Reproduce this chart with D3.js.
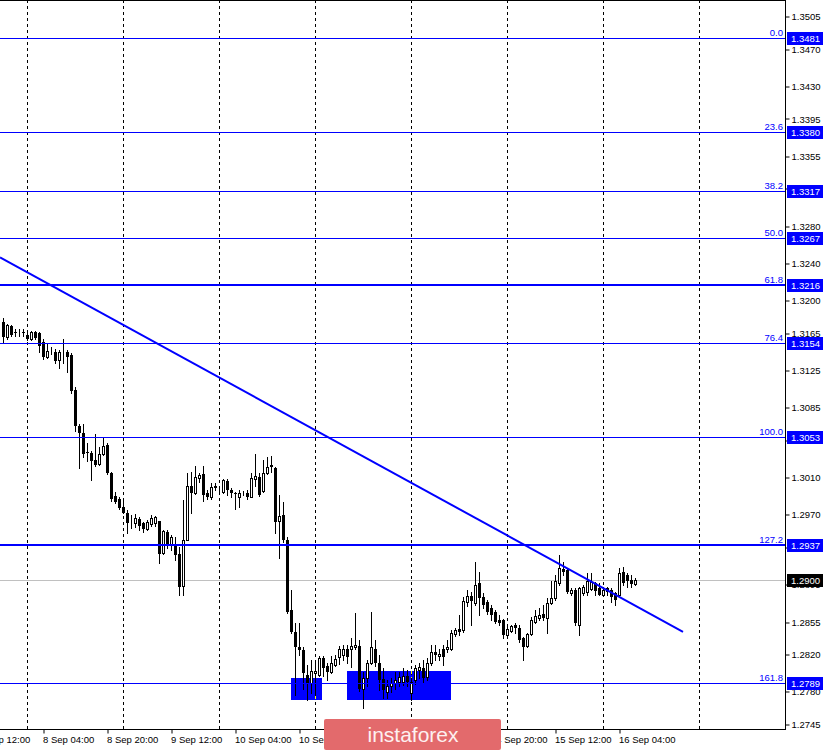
<!DOCTYPE html>
<html>
<head>
<meta charset="utf-8">
<script src="https://cdnjs.cloudflare.com/ajax/libs/d3/7.8.5/d3.min.js"></script>
<style>
  body { margin: 0; background: #fff; }
  svg { display: block; }
  text { font-family: "Liberation Sans", Arial, sans-serif; }
</style>
</head>
<body>
<svg></svg>
<script>
// GBPUSD H1, one bar per hour, 7 Sep 18:00 .. 16 Sep 08:00
const opens = [
  1.3176, 1.3160, 1.3172, 1.3166, 1.3166, 1.3166, 1.3163, 1.3158, 1.3166, 1.3165,
  1.3155, 1.3139, 1.3144, 1.3144, 1.3136, 1.3144, 1.3144, 1.3141, 1.3104, 1.3065,
  1.3057, 1.3037, 1.3036, 1.3028, 1.3024, 1.3035, 1.3045, 1.3014, 1.2990, 1.2986,
  1.2978, 1.2972, 1.2964, 1.2961, 1.2965, 1.2961, 1.2954, 1.2960, 1.2961, 1.2963,
  1.2929, 1.2951, 1.2938, 1.2937, 1.2927, 1.2893, 1.2942, 1.3001, 1.2993, 1.3009,
  1.3013, 1.2993, 1.2989, 1.3000, 1.2996, 1.2994, 1.3006, 1.2996, 1.2993, 1.2989,
  1.2993, 1.2993, 1.2989, 1.3008, 1.3010, 1.2995, 1.3014, 1.3023, 1.3020, 1.2963,
  1.2969, 1.2943, 1.2867, 1.2844, 1.2828, 1.2824, 1.2798, 1.2789, 1.2800, 1.2798,
  1.2816, 1.2807, 1.2801, 1.2808, 1.2817, 1.2819, 1.2826, 1.2826, 1.2828, 1.2829,
  1.2783, 1.2794, 1.2811, 1.2825, 1.2810, 1.2793, 1.2779, 1.2786, 1.2789, 1.2790,
  1.2790, 1.2796, 1.2778, 1.2792, 1.2803, 1.2805, 1.2795, 1.2810, 1.2822, 1.2818,
  1.2825, 1.2826, 1.2826, 1.2842, 1.2847, 1.2846, 1.2876, 1.2882, 1.2875, 1.2896,
  1.2881, 1.2876, 1.2869, 1.2865, 1.2857, 1.2857, 1.2840, 1.2845, 1.2851, 1.2848,
  1.2837, 1.2829, 1.2842, 1.2854, 1.2859, 1.2863, 1.2859, 1.2875, 1.2880, 1.2896,
  1.2911, 1.2910, 1.2886, 1.2889, 1.2851, 1.2886, 1.2887, 1.2890, 1.2896, 1.2891,
  1.2884, 1.2891, 1.2889, 1.2886, 1.2884, 1.2908, 1.2905, 1.2900, 1.2895
];
const highs = [
  1.3181, 1.3174, 1.3173, 1.3169, 1.3169, 1.3169, 1.3165, 1.3167, 1.3167, 1.3166,
  1.3158, 1.3153, 1.3150, 1.3148, 1.3146, 1.3158, 1.3146, 1.3143, 1.3107, 1.3067,
  1.3067, 1.3047, 1.3038, 1.3056, 1.3042, 1.3053, 1.3047, 1.3015, 1.2994, 1.2989,
  1.2986, 1.2975, 1.2969, 1.2970, 1.2967, 1.2962, 1.2964, 1.2969, 1.2968, 1.2963,
  1.2953, 1.2953, 1.2948, 1.2946, 1.2935, 1.2985, 1.3014, 1.3015, 1.3022, 1.3014,
  1.3022, 1.2996, 1.3004, 1.3004, 1.2999, 1.3008, 1.3008, 1.2998, 1.2994, 1.2996,
  1.2995, 1.2996, 1.3014, 1.3035, 1.3014, 1.3028, 1.3032, 1.3033, 1.3021, 1.2991,
  1.2983, 1.2946, 1.2889, 1.2853, 1.2853, 1.2828, 1.2808, 1.2814, 1.2811, 1.2818,
  1.2818, 1.2811, 1.2818, 1.2819, 1.2829, 1.2830, 1.2830, 1.2837, 1.2864, 1.2835,
  1.2801, 1.2814, 1.2865, 1.2835, 1.2819, 1.2805, 1.2792, 1.2794, 1.2801, 1.2801,
  1.2805, 1.2803, 1.2794, 1.2808, 1.2811, 1.2814, 1.2816, 1.2830, 1.2830, 1.2826,
  1.2830, 1.2835, 1.2846, 1.2848, 1.2862, 1.2881, 1.2889, 1.2887, 1.2919, 1.2908,
  1.2886, 1.2878, 1.2873, 1.2867, 1.2862, 1.2858, 1.2849, 1.2851, 1.2853, 1.2851,
  1.2838, 1.2843, 1.2860, 1.2867, 1.2870, 1.2873, 1.2880, 1.2899, 1.2905, 1.2926,
  1.2919, 1.2912, 1.2891, 1.2891, 1.2892, 1.2894, 1.2907, 1.2907, 1.2897, 1.2896,
  1.2892, 1.2892, 1.2891, 1.2887, 1.2912, 1.2913, 1.2907, 1.2905, 1.2902
];
const lows = [
  1.3155, 1.3158, 1.3161, 1.3162, 1.3162, 1.3161, 1.3157, 1.3157, 1.3158, 1.3144,
  1.3137, 1.3138, 1.3142, 1.3133, 1.3127, 1.3132, 1.3123, 1.3100, 1.3060, 1.3020,
  1.3032, 1.3027, 1.3007, 1.3022, 1.3023, 1.3034, 1.3013, 1.2984, 1.2982, 1.2976,
  1.2971, 1.2950, 1.2955, 1.2956, 1.2953, 1.2951, 1.2953, 1.2958, 1.2958, 1.2918,
  1.2928, 1.2934, 1.2932, 1.2921, 1.2884, 1.2884, 1.2942, 1.2972, 1.2992, 1.3005,
  1.2984, 1.2986, 1.2987, 1.2996, 1.2994, 1.2993, 1.2991, 1.2989, 1.2976, 1.2978,
  1.2991, 1.2987, 1.2989, 1.3001, 1.2990, 1.2994, 1.3013, 1.3015, 1.2950, 1.2923,
  1.2940, 1.2864, 1.2843, 1.2776, 1.2819, 1.2783, 1.2771, 1.2778, 1.2776, 1.2797,
  1.2796, 1.2792, 1.2800, 1.2807, 1.2809, 1.2814, 1.2811, 1.2806, 1.2825, 1.2780,
  1.2762, 1.2786, 1.2809, 1.2807, 1.2781, 1.2773, 1.2773, 1.2779, 1.2783, 1.2786,
  1.2787, 1.2786, 1.2771, 1.2788, 1.2794, 1.2790, 1.2792, 1.2808, 1.2814, 1.2814,
  1.2808, 1.2822, 1.2824, 1.2839, 1.2840, 1.2844, 1.2872, 1.2851, 1.2873, 1.2862,
  1.2870, 1.2863, 1.2857, 1.2853, 1.2851, 1.2837, 1.2838, 1.2844, 1.2843, 1.2833,
  1.2814, 1.2828, 1.2840, 1.2853, 1.2857, 1.2857, 1.2843, 1.2874, 1.2878, 1.2894,
  1.2905, 1.2886, 1.2883, 1.2851, 1.2840, 1.2883, 1.2883, 1.2889, 1.2883, 1.2883,
  1.2883, 1.2883, 1.2876, 1.2873, 1.2883, 1.2894, 1.2892, 1.2892, 1.2894
];
const closes = [
  1.3160, 1.3173, 1.3163, 1.3165, 1.3166, 1.3165, 1.3158, 1.3166, 1.3159, 1.3151,
  1.3139, 1.3145, 1.3144, 1.3135, 1.3144, 1.3144, 1.3139, 1.3102, 1.3065, 1.3057,
  1.3035, 1.3036, 1.3027, 1.3023, 1.3035, 1.3043, 1.3014, 1.2986, 1.2983, 1.2977,
  1.2972, 1.2961, 1.2964, 1.2966, 1.2958, 1.2954, 1.2962, 1.2966, 1.2967, 1.2928,
  1.2952, 1.2936, 1.2946, 1.2926, 1.2892, 1.2942, 1.3000, 1.2993, 1.3010, 1.3012,
  1.2991, 1.2989, 1.2999, 1.2998, 1.2996, 1.3007, 1.2996, 1.2993, 1.2992, 1.2993,
  1.2993, 1.2989, 1.3009, 1.3011, 1.2991, 1.3014, 1.3021, 1.3021, 1.2962, 1.2968,
  1.2942, 1.2865, 1.2844, 1.2828, 1.2824, 1.2800, 1.2789, 1.2802, 1.2802, 1.2816,
  1.2805, 1.2801, 1.2810, 1.2815, 1.2826, 1.2825, 1.2817, 1.2829, 1.2830, 1.2783,
  1.2794, 1.2811, 1.2828, 1.2810, 1.2792, 1.2781, 1.2786, 1.2789, 1.2792, 1.2795,
  1.2797, 1.2790, 1.2790, 1.2805, 1.2806, 1.2794, 1.2811, 1.2822, 1.2819, 1.2820,
  1.2817, 1.2828, 1.2843, 1.2846, 1.2844, 1.2877, 1.2882, 1.2877, 1.2894, 1.2880,
  1.2873, 1.2865, 1.2862, 1.2854, 1.2853, 1.2840, 1.2847, 1.2850, 1.2848, 1.2835,
  1.2828, 1.2842, 1.2857, 1.2861, 1.2862, 1.2859, 1.2875, 1.2880, 1.2899, 1.2912,
  1.2908, 1.2887, 1.2889, 1.2853, 1.2891, 1.2892, 1.2899, 1.2897, 1.2888, 1.2884,
  1.2889, 1.2887, 1.2881, 1.2878, 1.2907, 1.2896, 1.2899, 1.2895, 1.2900
];

const priceTicks = [1.3505, 1.3470, 1.3430, 1.3395, 1.3355, 1.3320, 1.3280, 1.3240, 1.3200,
  1.3165, 1.3125, 1.3085, 1.3050, 1.3010, 1.2970, 1.2935, 1.2895, 1.2855, 1.2820, 1.2780, 1.2745];

// bar index of each time label (bar 0 = 7 Sep 18:00)
const timeLabelBars = [-6, 10, 26, 42, 58, 74, 90, 106, 122, 138, 154];
const timeLabels = ["7 Sep 12:00", "8 Sep 04:00", "8 Sep 20:00", "9 Sep 12:00", "10 Sep 04:00",
  "10 Sep 20:00", "11 Sep 12:00", "14 Sep 04:00", "14 Sep 20:00", "15 Sep 12:00", "16 Sep 04:00"];
const daySeparatorBars = [6, 30, 54, 78, 102, 126, 150, 174];

const fibNames = ["0.0", "23.6", "38.2", "50.0", "61.8", "76.4", "100.0", "127.2", "161.8"];
const fibPrices = [1.3481, 1.3380, 1.3317, 1.3267, 1.3216, 1.3154, 1.3053, 1.2937, 1.2789];
const fibBold = ["61.8", "127.2"];

const trendBars = [-0.75, 170];
const trendPrices = [1.3246, 1.2844];

const zoneFrom = [72, 86];
const zoneTo = [79.75, 112];
const zoneTop = [1.2794, 1.2802];
const zoneBottom = [1.2771, 1.2771];

const lastPrice = 1.2900;

const width = 826, height = 750;
const plotW = 785, plotH = 729;
const blue = "#0000ff";

const svg = d3.select('svg')
  .attr("width", width)
  .attr("height", height);

svg.append("defs").append("clipPath").attr("id", "plot")
  .append("rect").attr("width", plotW).attr("height", plotH);

const xScale = d3.scaleLinear()
  .domain([0, closes.length - 1])
  .range([3, 3 + 4 * (closes.length - 1)]);

const yScale = d3.scaleLinear()
  .domain([1.2745, 1.3505])
  .range([724, 16]);

const px = v => Math.round(v);

const plot = svg.append("g").attr("clip-path", "url(#plot)");

// support zones
zoneFrom.forEach((f, i) => {
  plot.append("rect")
    .attr("x", px(xScale(f)))
    .attr("y", px(yScale(zoneTop[i])))
    .attr("width", px(xScale(zoneTo[i])) - px(xScale(f)))
    .attr("height", px(yScale(zoneBottom[i])) - px(yScale(zoneTop[i])))
    .attr("fill", blue);
});

// day separators
plot.selectAll(".sep")
  .data(daySeparatorBars)
  .enter()
  .append("line")
  .attr("x1", d => px(xScale(d)) + 0.5)
  .attr("x2", d => px(xScale(d)) + 0.5)
  .attr("y1", 0)
  .attr("y2", plotH)
  .attr("stroke", "#000")
  .attr("stroke-dasharray", "3,3");

// separators look yellow where they cross the zones
zoneFrom.forEach((f, i) => {
  daySeparatorBars.filter(d => d > f && d < zoneTo[i]).forEach(d => {
    plot.append("line")
      .attr("x1", px(xScale(d)) + 0.5)
      .attr("x2", px(xScale(d)) + 0.5)
      .attr("y1", 0)
      .attr("y2", plotH)
      .attr("stroke", "#ffff00")
      .attr("stroke-dasharray", "3,3")
      .attr("clip-path", null)
      .attr("y1", px(yScale(zoneTop[i])))
      .attr("y2", px(yScale(zoneBottom[i])));
  });
});

// bid line
plot.append("line")
  .attr("x1", 0).attr("x2", plotW)
  .attr("y1", px(yScale(lastPrice)) + 0.5)
  .attr("y2", px(yScale(lastPrice)) + 0.5)
  .attr("stroke", "#c0c0c0");

// candles
const bars = d3.range(closes.length);

const candle = plot.selectAll(".candle")
  .data(bars)
  .enter()
  .append("g");

candle.append("line")
  .attr("x1", i => px(xScale(i)) + 0.5)
  .attr("x2", i => px(xScale(i)) + 0.5)
  .attr("y1", i => px(yScale(Math.max(highs[i], opens[i], closes[i]))))
  .attr("y2", i => px(yScale(Math.min(lows[i], opens[i], closes[i]))) + 1)
  .attr("stroke", "#000");

candle.append("rect")
  .attr("x", i => closes[i] >= opens[i] ? px(xScale(i)) - 0.5 : px(xScale(i)) - 1)
  .attr("width", i => closes[i] >= opens[i] ? 2 : 3)
  .attr("y", i => {
    const top = px(yScale(Math.max(opens[i], closes[i])));
    return closes[i] >= opens[i] ? top + 0.5 : top;
  })
  .attr("height", i => {
    const h = px(yScale(Math.min(opens[i], closes[i]))) - px(yScale(Math.max(opens[i], closes[i])));
    return closes[i] >= opens[i] ? Math.max(h, 0) : Math.max(h, 1);
  })
  .attr("fill", i => closes[i] >= opens[i] ? "#fff" : "#000")
  .attr("stroke", i => closes[i] >= opens[i] ? "#000" : "none");

// fibonacci levels
fibPrices.forEach((p, i) => {
  const y = px(yScale(p));
  const bold = fibBold.includes(fibNames[i]);
  plot.append("line")
    .attr("x1", 0).attr("x2", plotW)
    .attr("y1", bold ? y : y + 0.5)
    .attr("y2", bold ? y : y + 0.5)
    .attr("stroke", blue)
    .attr("stroke-width", bold ? 2 : 1);
  svg.append("text")
    .attr("x", 783)
    .attr("y", y - 2)
    .attr("text-anchor", "end")
    .attr("font-size", "9.5px")
    .attr("fill", blue)
    .text(fibNames[i]);
});

// trend line
plot.append("line")
  .attr("x1", xScale(trendBars[0]))
  .attr("y1", yScale(trendPrices[0]))
  .attr("x2", xScale(trendBars[1]))
  .attr("y2", yScale(trendPrices[1]))
  .attr("stroke", blue)
  .attr("stroke-width", 2);

// frame
svg.append("line").attr("x1", 0).attr("x2", plotW + 1).attr("y1", 0.5).attr("y2", 0.5).attr("stroke", "#000");
svg.append("line").attr("x1", plotW + 0.5).attr("x2", plotW + 0.5).attr("y1", 0).attr("y2", plotH + 1).attr("stroke", "#000");
svg.append("line").attr("x1", 0).attr("x2", plotW + 1).attr("y1", plotH + 0.5).attr("y2", plotH + 0.5).attr("stroke", "#000");

// price axis
const yAxis = svg.append('g')
  .attr('transform', `translate(${plotW + 0.5}, 0.5)`)
  .call(d3.axisRight(yScale).tickValues(priceTicks).tickSize(4).tickPadding(2).tickFormat(d3.format(".4f")));
yAxis.select(".domain").remove();
yAxis.selectAll("text").attr("font-size", "9.5px").attr("font-family", "Liberation Sans, Arial, sans-serif").attr("fill", "#000");
yAxis.selectAll("line").attr("y1", d => px(yScale(d)) - yScale(d)).attr("y2", d => px(yScale(d)) - yScale(d));

// time axis
const xAxis = svg.append('g')
  .attr('transform', `translate(0.5, ${plotH + 0.5})`)
  .call(d3.axisBottom(xScale).tickValues(timeLabelBars).tickSize(4).tickPadding(3)
    .tickFormat((d, i) => timeLabels[i]));
xAxis.select(".domain").remove();
xAxis.selectAll("text")
  .attr("text-anchor", "start")
  .attr("dx", "-1")
  .attr("font-size", "9.5px")
  .attr("font-family", "Liberation Sans, Arial, sans-serif")
  .attr("fill", "#000");

// highlighted price labels
const tagPrices = fibPrices.concat([lastPrice]);
tagPrices.forEach((p, i) => {
  const y = px(yScale(p));
  const isLast = i === tagPrices.length - 1;
  svg.append("rect")
    .attr("x", 787).attr("y", y - 6)
    .attr("width", 36).attr("height", 13)
    .attr("fill", isLast ? "#000" : blue);
  svg.append("text")
    .attr("x", 791).attr("y", y + 4)
    .attr("font-size", "9.5px")
    .attr("fill", "#fff")
    .text(d3.format(".4f")(p));
});

// watermark
svg.append("rect")
  .attr("x", 324).attr("y", 719)
  .attr("width", 177).attr("height", 31)
  .attr("rx", 2)
  .attr("fill", "#e36a6c");
svg.append("text")
  .attr("x", 413).attr("y", 742)
  .attr("text-anchor", "middle")
  .attr("font-family", "Lato, 'Open Sans', sans-serif")
  .attr("font-size", "21px")
  .attr("fill", "#fdf0f0")
  .text("instaforex");
</script>
</body>
</html>
